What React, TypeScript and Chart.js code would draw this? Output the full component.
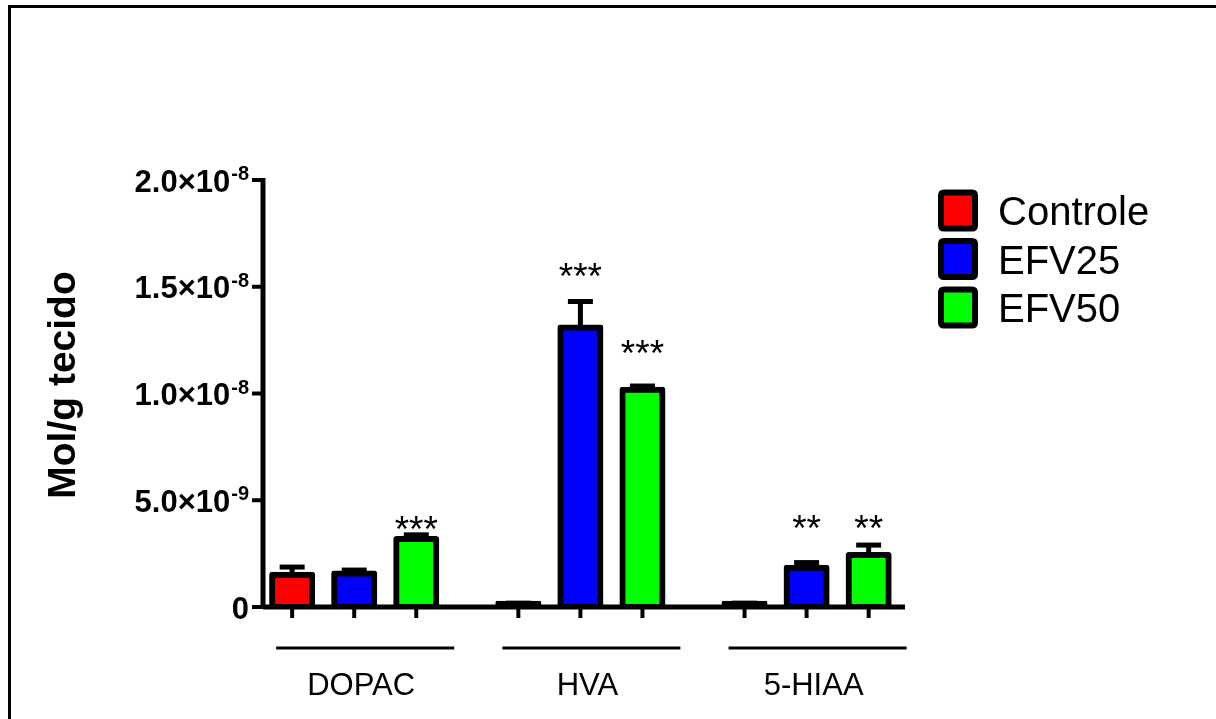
import React, { useEffect, useRef } from "react";
import { Chart, registerables } from "chart.js";

Chart.register(...registerables);

// Metabolite groups along the x axis
const groups = ["DOPAC", "HVA", "5-HIAA"];

// Treatment series
const seriesNames = ["Controle", "EFV25", "EFV50"];
const seriesColors = ["#FF0000", "#0000FF", "#00FF00"];

// Mean content, mol per g of tissue
const controle = [1.51e-9, 0.15e-9, 0.15e-9];
const efv25 = [1.57e-9, 13.09e-9, 1.84e-9];
const efv50 = [3.18e-9, 10.18e-9, 2.44e-9];

// Standard error of the mean
const controleSem = [0.36e-9, 0.03e-9, 0.03e-9];
const efv25Sem = [0.16e-9, 1.22e-9, 0.24e-9];
const efv50Sem = [0.2e-9, 0.17e-9, 0.46e-9];

// Significance marks and the level (mol/g) each one is written at
const controleSig = ["", "", ""];
const efv25Sig = ["", "***", "**"];
const efv50Sig = ["***", "***", "**"];
const controleSigAt = [0, 0, 0];
const efv25SigAt = [0, 15.88e-9, 4.07e-9];
const efv50SigAt = [4.03e-9, 12.27e-9, 4.07e-9];

// Y axis ticks written as mantissa × 10^exponent
const yTicks = [0, 5e-9, 1e-8, 1.5e-8, 2e-8];
const yTickMantissa = ["0", "5.0×10", "1.0×10", "1.5×10", "2.0×10"];
const yTickExponent = ["", "-9", "-8", "-8", "-8"];

const yTitle = "Mol/g tecido";

const FONT = '"Liberation Sans", Arial, Helvetica, sans-serif';
const BAR_BORDER = 6;

const seriesMeans = [controle, efv25, efv50];
const seriesSems = [controleSem, efv25Sem, efv50Sem];
const seriesSig = [controleSig, efv25Sig, efv50Sig];
const seriesSigAt = [controleSigAt, efv25SigAt, efv50SigAt];

function roundRectPath(ctx: CanvasRenderingContext2D, x: number, y: number, w: number, h: number, r: number) {
  ctx.beginPath();
  ctx.moveTo(x + r, y);
  ctx.lineTo(x + w - r, y);
  ctx.quadraticCurveTo(x + w, y, x + w, y + r);
  ctx.lineTo(x + w, y + h - r);
  ctx.quadraticCurveTo(x + w, y + h, x + w - r, y + h);
  ctx.lineTo(x + r, y + h);
  ctx.quadraticCurveTo(x, y + h, x, y + h - r);
  ctx.lineTo(x, y + r);
  ctx.quadraticCurveTo(x, y, x + r, y);
  ctx.closePath();
}

const graphDecor = {
  id: "graphDecor",
  // error bars sit underneath the bars, so only the part above the bar shows
  beforeDatasetsDraw(chart: any) {
    const ctx: CanvasRenderingContext2D = chart.ctx;
    const y = chart.scales.y;
    ctx.save();
    ctx.strokeStyle = "#000";
    ctx.lineWidth = 5;
    chart.data.datasets.forEach((ds: any, di: number) => {
      const meta = chart.getDatasetMeta(di);
      meta.data.forEach((el: any, i: number) => {
        const top = y.getPixelForValue(ds.data[i].y + ds.sem[i]);
        ctx.beginPath();
        ctx.moveTo(el.x, el.y);
        ctx.lineTo(el.x, top);
        ctx.stroke();
        ctx.beginPath();
        ctx.moveTo(el.x - 12.5, top);
        ctx.lineTo(el.x + 12.5, top);
        ctx.stroke();
      });
    });
    ctx.restore();
  },
  afterDatasetsDraw(chart: any) {
    const ctx: CanvasRenderingContext2D = chart.ctx;
    const x = chart.scales.x;
    const y = chart.scales.y;
    const area = chart.chartArea;
    const x0 = area.left;
    const y0 = y.getPixelForValue(0);
    const yTop = y.getPixelForValue(yTicks[yTicks.length - 1]);

    ctx.save();
    ctx.strokeStyle = "#000";
    ctx.fillStyle = "#000";

    // outer frame
    ctx.lineWidth = 3;
    ctx.beginPath();
    ctx.moveTo(8, 6.5);
    ctx.lineTo(1216, 6.5);
    ctx.moveTo(9.5, 5);
    ctx.lineTo(9.5, 719);
    ctx.stroke();

    // y axis with ticks
    ctx.lineWidth = 5;
    ctx.beginPath();
    ctx.moveTo(x0, yTop - 2);
    ctx.lineTo(x0, y0);
    ctx.stroke();
    ctx.lineWidth = 4;
    yTicks.forEach((v) => {
      const py = y.getPixelForValue(v);
      ctx.beginPath();
      ctx.moveTo(x0 - 11, py);
      ctx.lineTo(x0, py);
      ctx.stroke();
    });

    // x axis
    ctx.lineWidth = 5;
    ctx.beginPath();
    ctx.moveTo(x0, y0);
    ctx.lineTo(area.right, y0);
    ctx.stroke();

    // x ticks under every bar
    ctx.lineWidth = 4;
    chart.data.datasets.forEach((_ds: any, di: number) => {
      chart.getDatasetMeta(di).data.forEach((el: any) => {
        ctx.beginPath();
        ctx.moveTo(el.x, y0);
        ctx.lineTo(el.x, y0 + 11);
        ctx.stroke();
      });
    });

    // group underline and group label
    groups.forEach((g, gi) => {
      const cx = x.getPixelForValue(gi);
      ctx.lineWidth = 3;
      ctx.beginPath();
      ctx.moveTo(cx + 11 - 89, 648);
      ctx.lineTo(cx + 11 + 89, 648);
      ctx.stroke();
      ctx.font = `31px ${FONT}`;
      ctx.textAlign = "center";
      ctx.textBaseline = "alphabetic";
      ctx.fillText(g, cx + 7, 695);
    });

    // y tick labels with superscript exponent
    const right = x0 - 14;
    yTicks.forEach((v, i) => {
      const py = y.getPixelForValue(v);
      ctx.textBaseline = "alphabetic";
      ctx.textAlign = "right";
      const exp = yTickExponent[i];
      let mantRight = right;
      if (exp) {
        ctx.font = `bold 20px ${FONT}`;
        const w = ctx.measureText(exp).width;
        ctx.fillText(exp, right, py);
        mantRight = right - w - 1;
      }
      ctx.font = `bold 31px ${FONT}`;
      ctx.fillText(yTickMantissa[i], mantRight, py + 11.5);
    });

    // y axis title
    ctx.save();
    ctx.translate(75, 385);
    ctx.rotate(-Math.PI / 2);
    ctx.font = `bold 39px ${FONT}`;
    ctx.textAlign = "center";
    ctx.textBaseline = "alphabetic";
    ctx.fillText(yTitle, 0, 0);
    ctx.restore();

    // significance marks
    ctx.font = `37px ${FONT}`;
    ctx.textAlign = "center";
    ctx.textBaseline = "alphabetic";
    chart.data.datasets.forEach((ds: any, di: number) => {
      chart.getDatasetMeta(di).data.forEach((el: any, i: number) => {
        const s = ds.sig[i];
        if (!s) return;
        const py = y.getPixelForValue(ds.sigAt[i]);
        ctx.fillText(s, el.x, py + 21);
      });
    });

    // legend
    chart.data.datasets.forEach((ds: any, di: number) => {
      const cy = 210.5 + 48.5 * di;
      roundRectPath(ctx, 941, cy - 18, 34, 36, 3);
      ctx.fillStyle = ds.seriesColor;
      ctx.fill();
      ctx.lineWidth = 6;
      ctx.strokeStyle = "#000";
      ctx.stroke();
      ctx.fillStyle = "#000";
      ctx.font = `40px ${FONT}`;
      ctx.textAlign = "left";
      ctx.textBaseline = "alphabetic";
      ctx.fillText(ds.label, 998, cy + 14.5);
    });

    ctx.restore();
  },
};

export default function App() {
  const canvasRef = useRef<HTMLCanvasElement | null>(null);

  useEffect(() => {
    const canvas = canvasRef.current;
    if (!canvas) return;

    const datasets = seriesNames.map((name, si) => ({
      label: name,
      data: seriesMeans[si].map((v, gi) => ({ x: gi, y: v })),
      sem: seriesSems[si],
      sig: seriesSig[si],
      sigAt: seriesSigAt[si],
      seriesColor: seriesColors[si],
      // a bar shorter than its own outline shows only the outline
      backgroundColor: (c: any) => {
        const ys = c.chart.scales.y;
        const v = c.raw ? c.raw.y : 0;
        if (!ys) return seriesColors[si];
        const h = Math.abs(ys.getPixelForValue(v) - ys.getPixelForValue(0));
        return h < 2 * BAR_BORDER ? "#000" : seriesColors[si];
      },
      borderColor: "#000",
      borderWidth: BAR_BORDER,
      borderSkipped: false,
      borderRadius: 3,
      inflateAmount: 3,
      categoryPercentage: 0.823,
      barPercentage: 0.645,
    }));

    const chart = new Chart(canvas, {
      type: "bar",
      data: { datasets } as any,
      options: {
        responsive: false,
        devicePixelRatio: 1,
        animation: false,
        layout: { padding: { left: 263, right: 311, top: 180, bottom: 112 } },
        plugins: {
          legend: { display: false },
          tooltip: { enabled: false },
        },
        scales: {
          x: {
            type: "linear",
            display: false,
            offset: false,
            min: -0.4032,
            max: 2.435,
            ticks: { stepSize: 1, includeBounds: false },
          },
          y: { display: false, min: 0, max: 2e-8 },
        },
      } as any,
      plugins: [graphDecor],
    });

    return () => chart.destroy();
  }, []);

  return (
    <div style={{ position: "fixed", left: 0, top: 0, width: 1216, height: 719, background: "#fff" }}>
      <canvas ref={canvasRef} width={1216} height={719} style={{ display: "block" }} />
    </div>
  );
}
